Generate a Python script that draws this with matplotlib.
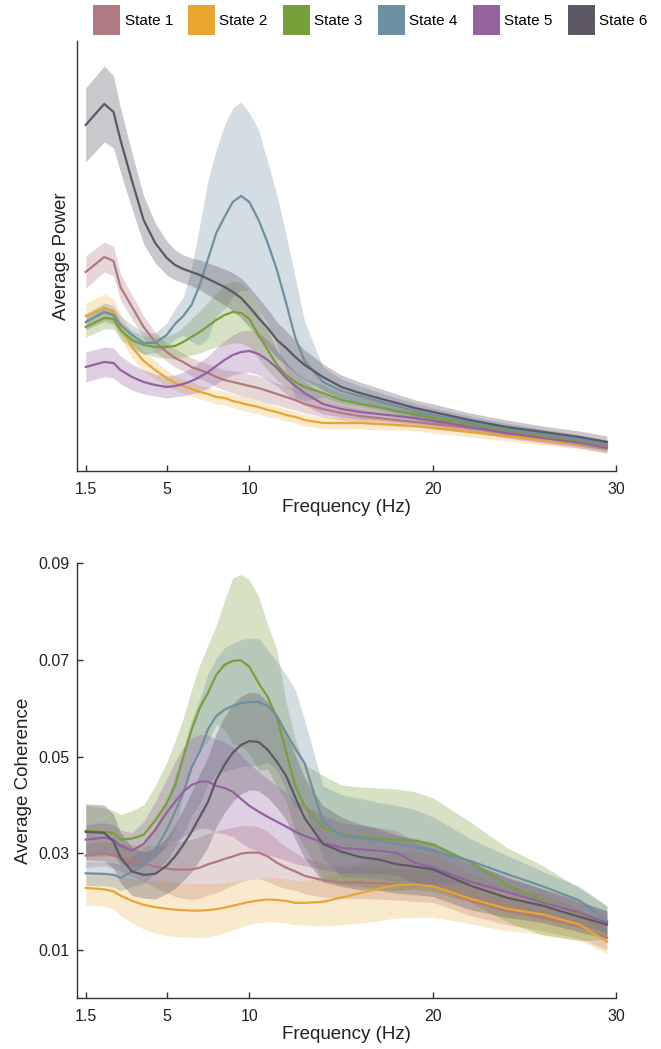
import numpy as np
import matplotlib
matplotlib.use("Agg")
import matplotlib.pyplot as plt
from matplotlib.patches import Patch

plt.rcParams['font.family'] = ['Liberation Sans', 'DejaVu Sans']

# frequency bins (Hz)
freq = [1.5, 2.3, 2.7, 3, 3.5, 4, 4.5, 5, 5.5, 6, 6.5, 7, 7.5, 8, 8.5, 9, 9.5, 10,
        10.5, 11, 11.5, 12, 12.5, 13, 14, 15, 16, 17, 18, 19, 20, 22, 24, 26, 28, 29.5]

states = ['State 1', 'State 2', 'State 3', 'State 4', 'State 5', 'State 6']
colors = ['#B07A80', '#E8A630', '#78A03A', '#6F8FA3', '#9562A0', '#5E5865']
band_alpha = [0.3, 0.24, 0.3, 0.3, 0.3, 0.33]

# average power (arbitrary units) and its error band
pow_s1 = [1.99, 2.14, 2.10, 1.84, 1.64, 1.44, 1.29, 1.19, 1.13, 1.09, 1.04, 1.01,
          0.98, 0.94, 0.91, 0.89, 0.87, 0.85, 0.83, 0.80, 0.77, 0.74, 0.71, 0.67,
          0.62, 0.58, 0.55, 0.53, 0.51, 0.49, 0.47, 0.43, 0.39, 0.34, 0.30, 0.25]
pow_s2 = [1.55, 1.63, 1.59, 1.45, 1.24, 1.10, 1.01, 0.93, 0.88, 0.85, 0.82, 0.79,
          0.77, 0.74, 0.73, 0.70, 0.68, 0.66, 0.64, 0.61, 0.59, 0.56, 0.54, 0.51,
          0.48, 0.48, 0.48, 0.47, 0.46, 0.45, 0.43, 0.39, 0.35, 0.31, 0.27, 0.23]
pow_s3 = [1.44, 1.53, 1.52, 1.41, 1.31, 1.26, 1.24, 1.24, 1.25, 1.29, 1.34, 1.39,
          1.45, 1.51, 1.56, 1.59, 1.58, 1.52, 1.36, 1.21, 1.06, 0.96, 0.89, 0.84,
          0.78, 0.71, 0.67, 0.64, 0.60, 0.57, 0.53, 0.47, 0.41, 0.36, 0.30, 0.26]
pow_s4 = [1.49, 1.59, 1.56, 1.46, 1.36, 1.28, 1.28, 1.36, 1.47, 1.55, 1.66, 1.86,
          2.12, 2.38, 2.54, 2.69, 2.75, 2.69, 2.51, 2.28, 2.01, 1.68, 1.33, 1.10,
          0.89, 0.80, 0.75, 0.70, 0.65, 0.60, 0.56, 0.49, 0.42, 0.37, 0.31, 0.26]
pow_s5 = [1.04, 1.09, 1.08, 1.01, 0.94, 0.89, 0.86, 0.84, 0.85, 0.87, 0.90, 0.94,
          0.99, 1.05, 1.11, 1.16, 1.19, 1.20, 1.17, 1.11, 1.03, 0.93, 0.85, 0.78,
          0.67, 0.62, 0.59, 0.57, 0.55, 0.53, 0.50, 0.44, 0.38, 0.33, 0.28, 0.23]
pow_s6 = [3.46, 3.67, 3.59, 3.31, 2.90, 2.51, 2.28, 2.13, 2.06, 2.02, 1.99, 1.96,
          1.92, 1.88, 1.84, 1.79, 1.73, 1.64, 1.53, 1.43, 1.31, 1.23, 1.14, 1.06,
          0.94, 0.84, 0.78, 0.73, 0.68, 0.63, 0.59, 0.51, 0.44, 0.39, 0.34, 0.29]

pow_e1 = [0.16, 0.15, 0.15, 0.13, 0.12, 0.11, 0.10, 0.09, 0.09, 0.09, 0.09, 0.09,
          0.09, 0.10, 0.10, 0.11, 0.12, 0.12, 0.12, 0.12, 0.11, 0.11, 0.10, 0.09,
          0.08, 0.07, 0.07, 0.06, 0.06, 0.05, 0.05, 0.05, 0.05, 0.05, 0.05, 0.05]
pow_e2 = [0.13, 0.14, 0.13, 0.12, 0.11, 0.10, 0.09, 0.08, 0.07, 0.07, 0.07, 0.07,
          0.07, 0.07, 0.07, 0.07, 0.07, 0.07, 0.07, 0.07, 0.06, 0.06, 0.06, 0.06,
          0.06, 0.06, 0.06, 0.06, 0.05, 0.05, 0.05, 0.05, 0.05, 0.05, 0.05, 0.05]
pow_e3 = [0.10, 0.11, 0.10, 0.09, 0.09, 0.09, 0.10, 0.11, 0.13, 0.15, 0.18, 0.21,
          0.24, 0.27, 0.30, 0.31, 0.30, 0.28, 0.24, 0.20, 0.15, 0.12, 0.10, 0.09,
          0.08, 0.07, 0.07, 0.06, 0.06, 0.06, 0.06, 0.05, 0.05, 0.05, 0.05, 0.05]
pow_e4 = [0.08, 0.09, 0.09, 0.09, 0.10, 0.11, 0.10, 0.12, 0.15, 0.19, 0.37, 0.60,
          0.79, 0.83, 0.92, 0.94, 0.94, 0.89, 0.90, 0.81, 0.75, 0.68, 0.60, 0.40,
          0.15, 0.12, 0.10, 0.09, 0.08, 0.08, 0.07, 0.06, 0.06, 0.05, 0.05, 0.05]
pow_e5 = [0.15, 0.15, 0.15, 0.14, 0.13, 0.12, 0.11, 0.11, 0.11, 0.12, 0.13, 0.15,
          0.16, 0.18, 0.19, 0.20, 0.21, 0.21, 0.21, 0.20, 0.18, 0.16, 0.14, 0.12,
          0.10, 0.08, 0.07, 0.06, 0.06, 0.06, 0.05, 0.05, 0.05, 0.05, 0.05, 0.05]
pow_e6 = [0.37, 0.38, 0.36, 0.32, 0.28, 0.24, 0.20, 0.17, 0.15, 0.14, 0.14, 0.15,
          0.16, 0.17, 0.18, 0.19, 0.20, 0.20, 0.20, 0.19, 0.18, 0.17, 0.16, 0.15,
          0.13, 0.12, 0.11, 0.10, 0.09, 0.08, 0.08, 0.07, 0.07, 0.06, 0.06, 0.06]

# average coherence and its error band
coh_s1 = [0.0295, 0.0299, 0.0295, 0.0291, 0.0284, 0.0279, 0.0272, 0.0268, 0.0266,
          0.0266, 0.0266, 0.0270, 0.0277, 0.0282, 0.0288, 0.0293, 0.0299, 0.0301,
          0.0301, 0.0293, 0.0280, 0.0270, 0.0262, 0.0253, 0.0244, 0.0239, 0.0239,
          0.0238, 0.0236, 0.0233, 0.0231, 0.0202, 0.0181, 0.0166, 0.0148, 0.0125]
coh_s2 = [0.0228, 0.0225, 0.0221, 0.0212, 0.0201, 0.0193, 0.0188, 0.0185, 0.0183,
          0.0182, 0.0181, 0.0181, 0.0182, 0.0184, 0.0187, 0.0191, 0.0195, 0.0199,
          0.0202, 0.0204, 0.0203, 0.0201, 0.0197, 0.0197, 0.0199, 0.0208, 0.0217,
          0.0226, 0.0234, 0.0235, 0.0231, 0.0206, 0.0185, 0.0173, 0.0152, 0.0117]
coh_s3 = [0.0346, 0.0344, 0.0342, 0.0328, 0.0330, 0.0338, 0.0367, 0.0404, 0.0439,
          0.0499, 0.0555, 0.0601, 0.0632, 0.0669, 0.0690, 0.0698, 0.0699, 0.0686,
          0.0652, 0.0623, 0.0580, 0.0510, 0.0439, 0.0398, 0.0353, 0.0338, 0.0334,
          0.0330, 0.0328, 0.0326, 0.0317, 0.0282, 0.0235, 0.0202, 0.0173, 0.0156]
coh_s4 = [0.0258, 0.0257, 0.0255, 0.0249, 0.0262, 0.0274, 0.0307, 0.0348, 0.0386,
          0.0425, 0.0477, 0.0510, 0.0557, 0.0584, 0.0597, 0.0605, 0.0610, 0.0613,
          0.0613, 0.0605, 0.0584, 0.0549, 0.0516, 0.0487, 0.0365, 0.0336, 0.0332,
          0.0326, 0.0320, 0.0313, 0.0305, 0.0284, 0.0257, 0.0231, 0.0202, 0.0160]
coh_s5 = [0.0328, 0.0332, 0.0328, 0.0315, 0.0305, 0.0319, 0.0348, 0.0384, 0.0406,
          0.0427, 0.0441, 0.0448, 0.0448, 0.0439, 0.0435, 0.0427, 0.0412, 0.0398,
          0.0386, 0.0375, 0.0365, 0.0355, 0.0344, 0.0336, 0.0322, 0.0311, 0.0308,
          0.0305, 0.0301, 0.0280, 0.0270, 0.0241, 0.0220, 0.0197, 0.0177, 0.0156]
coh_s6 = [0.0344, 0.0342, 0.0324, 0.0291, 0.0262, 0.0255, 0.0257, 0.0274, 0.0293,
          0.0317, 0.0344, 0.0375, 0.0406, 0.0452, 0.0483, 0.0508, 0.0524, 0.0532,
          0.0530, 0.0514, 0.0489, 0.0460, 0.0415, 0.0373, 0.0319, 0.0303, 0.0292,
          0.0287, 0.0277, 0.0272, 0.0266, 0.0233, 0.0208, 0.0191, 0.0168, 0.0152]

coh_e1 = [0.0025, 0.0025, 0.0027, 0.0029, 0.0033, 0.0037, 0.0043, 0.0050, 0.0056,
          0.0060, 0.0062, 0.0064, 0.0064, 0.0064, 0.0062, 0.0060, 0.0058, 0.0056,
          0.0054, 0.0052, 0.0048, 0.0043, 0.0039, 0.0037, 0.0035, 0.0033, 0.0033,
          0.0033, 0.0033, 0.0033, 0.0033, 0.0031, 0.0029, 0.0027, 0.0025, 0.0025]
coh_e2 = [0.0035, 0.0035, 0.0037, 0.0041, 0.0046, 0.0050, 0.0054, 0.0056, 0.0056,
          0.0056, 0.0056, 0.0056, 0.0056, 0.0054, 0.0052, 0.0050, 0.0048, 0.0046,
          0.0046, 0.0046, 0.0046, 0.0046, 0.0046, 0.0046, 0.0050, 0.0056, 0.0062,
          0.0066, 0.0068, 0.0068, 0.0064, 0.0052, 0.0046, 0.0041, 0.0033, 0.0025]
coh_e3 = [0.0054, 0.0050, 0.0046, 0.0052, 0.0058, 0.0062, 0.0072, 0.0085, 0.0093,
          0.0081, 0.0083, 0.0089, 0.0099, 0.0103, 0.0134, 0.0172, 0.0178, 0.0180,
          0.0180, 0.0149, 0.0141, 0.0103, 0.0095, 0.0085, 0.0108, 0.0103, 0.0103,
          0.0105, 0.0105, 0.0101, 0.0097, 0.0083, 0.0077, 0.0072, 0.0054, 0.0035]
coh_e4 = [0.0025, 0.0025, 0.0025, 0.0027, 0.0031, 0.0037, 0.0050, 0.0062, 0.0074,
          0.0087, 0.0099, 0.0108, 0.0114, 0.0120, 0.0128, 0.0130, 0.0132, 0.0132,
          0.0132, 0.0116, 0.0112, 0.0120, 0.0122, 0.0089, 0.0074, 0.0085, 0.0081,
          0.0079, 0.0079, 0.0077, 0.0070, 0.0046, 0.0039, 0.0031, 0.0029, 0.0031]
coh_e5 = [0.0031, 0.0031, 0.0031, 0.0033, 0.0037, 0.0046, 0.0058, 0.0070, 0.0083,
          0.0093, 0.0097, 0.0097, 0.0097, 0.0097, 0.0095, 0.0093, 0.0091, 0.0087,
          0.0083, 0.0079, 0.0074, 0.0070, 0.0066, 0.0062, 0.0056, 0.0052, 0.0050,
          0.0048, 0.0046, 0.0043, 0.0041, 0.0037, 0.0033, 0.0029, 0.0025, 0.0023]
coh_e6 = [0.0058, 0.0058, 0.0056, 0.0052, 0.0050, 0.0048, 0.0052, 0.0058, 0.0066,
          0.0074, 0.0083, 0.0089, 0.0093, 0.0097, 0.0099, 0.0101, 0.0101, 0.0101,
          0.0101, 0.0099, 0.0095, 0.0091, 0.0087, 0.0083, 0.0079, 0.0072, 0.0068,
          0.0064, 0.0060, 0.0058, 0.0056, 0.0050, 0.0041, 0.0035, 0.0031, 0.0029]

power = [pow_s1, pow_s2, pow_s3, pow_s4, pow_s5, pow_s6]
power_err = [pow_e1, pow_e2, pow_e3, pow_e4, pow_e5, pow_e6]
coh = [coh_s1, coh_s2, coh_s3, coh_s4, coh_s5, coh_s6]
coh_err = [coh_e1, coh_e2, coh_e3, coh_e4, coh_e5, coh_e6]

xticks = [1.5, 5, 10, 20, 30]

# the frequency axis is stretched piecewise (not linear, not log)
_hz = [1.0, 1.5, 5, 10, 20, 30, 40]
_pos = [-11.6, 0, 81, 163.6, 347.6, 530.3, 713]


def fwd(f):
    return np.interp(f, _hz, _pos)


def inv(p):
    return np.interp(p, _pos, _hz)


fig = plt.figure(figsize=(6.61, 10.49), dpi=100)
ax1 = fig.add_axes([0.116, 0.551, 0.816, 0.410])
ax2 = fig.add_axes([0.116, 0.0486, 0.816, 0.4144])

x = np.array(freq)


def draw(ax, means, errs):
    for m, e, c, a in zip(means, errs, colors, band_alpha):
        m = np.array(m)
        e = np.array(e)
        ax.fill_between(x, m - e, m + e, color=c, alpha=a, linewidth=0)
    for m, c in zip(means, colors):
        ax.plot(x, m, color=c, lw=1.6)
    ax.set_xscale('function', functions=(fwd, inv))
    ax.set_xlim(1.11, 30)
    ax.set_xticks(xticks)
    ax.set_xticklabels(['1.5', '5', '10', '20', '30'])
    ax.minorticks_off()
    for s in ['top', 'right']:
        ax.spines[s].set_visible(False)
    for s in ['left', 'bottom']:
        ax.spines[s].set_color('#333333')
        ax.spines[s].set_linewidth(1.0)
    ax.tick_params(direction='in', length=4.5, width=1, colors='#333333',
                   labelsize=11.5, labelcolor='#222222')
    ax.tick_params(axis='x', pad=8)
    ax.tick_params(axis='y', pad=5)
    ax.set_xlabel('Frequency (Hz)', fontsize=13.5, color='#222222', labelpad=1)


draw(ax1, power, power_err)
ax1.set_ylim(0, 4.30)
ax1.set_yticks([])
ax1.set_ylabel('Average Power', fontsize=13.5, color='#222222', labelpad=5)

draw(ax2, coh, coh_err)
ax2.set_ylim(0, 0.09)
ax2.set_yticks([0.01, 0.03, 0.05, 0.07, 0.09])
ax2.set_yticklabels(['0.01', '0.03', '0.05', '0.07', '0.09'])
ax2.set_ylabel('Average Coherence', fontsize=13.5, color='#222222', labelpad=5)

handles = [Patch(facecolor=c, edgecolor='none') for c in colors]
fig.legend(handles, states, loc='upper left', bbox_to_anchor=(0.141, 0.995),
           ncol=6, frameon=False, fontsize=11, handlelength=1.75,
           handleheight=2.6, handletextpad=0.3, columnspacing=1.0,
           borderpad=0, borderaxespad=0)

fig.savefig('out.png', dpi=100, facecolor='white')
